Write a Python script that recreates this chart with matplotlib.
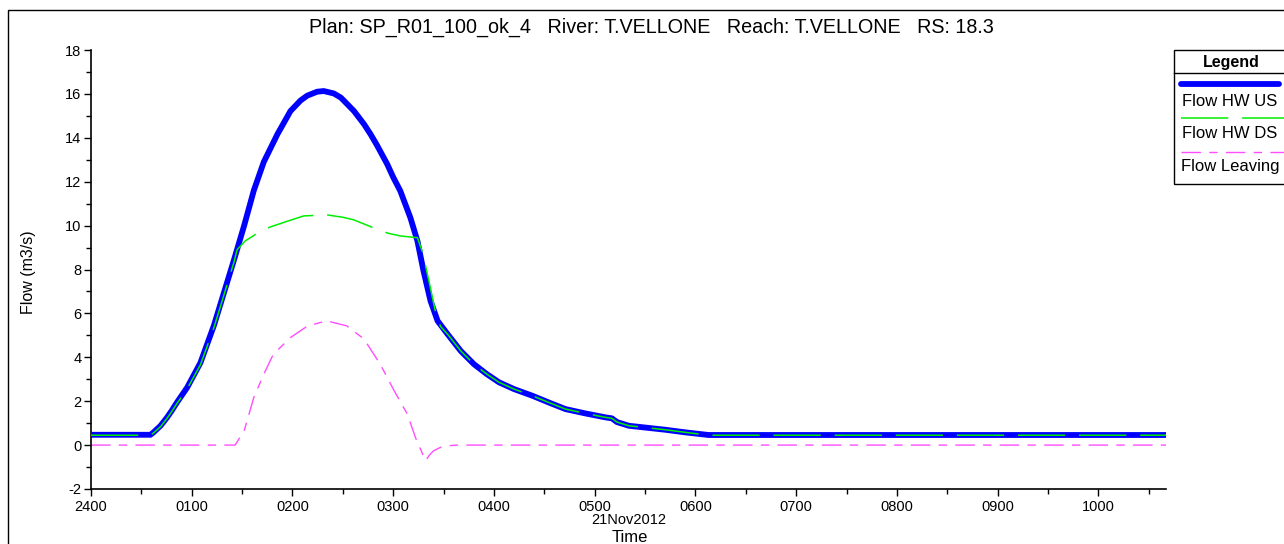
import matplotlib
matplotlib.use("Agg")
import matplotlib.pyplot as plt
from matplotlib.lines import Line2D
from matplotlib.patches import Rectangle
from matplotlib.ticker import FixedLocator, MultipleLocator

plt.rcParams["font.family"] = ["Liberation Sans", "DejaVu Sans"]
plt.rcParams["lines.scale_dashes"] = False
plt.rcParams["axes.unicode_minus"] = False

# Time in hours after 2400 (20 Nov 2012), flows in m3/s
us_time = [0.0, 0.59, 0.62, 0.69, 0.755, 0.80, 0.854, 0.954, 1.086, 1.22, 1.32, 1.42, 1.52,
           1.616, 1.715, 1.85, 1.98, 2.08, 2.146, 2.245, 2.31, 2.41, 2.48, 2.54, 2.61,
           2.71, 2.775, 2.84, 2.94, 3.0, 3.07,
           3.17, 3.24, 3.30, 3.37, 3.44, 3.54, 3.67, 3.80, 3.93, 4.05, 4.20, 4.38,
           4.55, 4.71, 4.90, 5.11, 5.17, 5.22, 5.34, 5.50, 5.70, 5.90, 6.13, 10.67]
us_flow = [0.47, 0.47, 0.58, 0.88, 1.26, 1.56, 1.95, 2.62, 3.75, 5.45, 6.95, 8.45, 10.0,
           11.6, 12.9, 14.16, 15.22, 15.70, 15.92, 16.10, 16.13, 16.02, 15.83, 15.55, 15.22,
           14.62, 14.16, 13.65, 12.8, 12.2, 11.58,
           10.36, 9.30, 7.94, 6.57, 5.66, 5.05, 4.29, 3.69, 3.23, 2.86, 2.55, 2.25,
           1.93, 1.64, 1.45, 1.26, 1.22, 1.05, 0.88, 0.80, 0.70, 0.58, 0.46, 0.46]

ds_time = [0.0, 0.59, 0.62, 0.69, 0.755, 0.80, 0.854, 0.954, 1.086, 1.22, 1.32, 1.42, 1.45,
           1.53, 1.65, 1.78, 1.95, 2.11, 2.34, 2.50, 2.61, 2.75, 2.84, 2.95, 3.07,
           3.17, 3.24, 3.29, 3.35, 3.42, 3.47, 3.54, 3.67, 3.80, 3.93, 4.05, 4.20,
           4.38, 4.55, 4.71, 4.90, 5.11, 5.17, 5.22, 5.34, 5.50, 5.70, 5.90, 6.13, 10.67]
ds_flow = [0.45, 0.45, 0.55, 0.84, 1.22, 1.52, 1.90, 2.56, 3.66, 5.35, 6.85, 8.35, 8.90,
           9.30, 9.65, 9.94, 10.20, 10.44, 10.49, 10.38, 10.26, 10.00, 9.83, 9.65, 9.53,
           9.48, 9.45, 8.79, 7.56, 6.05, 5.40, 5.05, 4.29, 3.69, 3.23, 2.86, 2.55,
           2.25, 1.93, 1.64, 1.45, 1.26, 1.22, 1.05, 0.88, 0.80, 0.70, 0.58, 0.45, 0.45]

lv_time = [0.0, 1.43, 1.52, 1.616, 1.715, 1.81, 1.98, 2.15, 2.34, 2.54, 2.71,
           2.87, 3.01, 3.14, 3.22, 3.32, 3.36, 3.40, 3.47, 3.54, 3.64, 10.67]
lv_flow = [0.0, 0.0, 0.65, 2.17, 3.23, 4.14, 4.90, 5.43, 5.66, 5.43, 4.83,
           3.69, 2.47, 1.41, 0.35, -0.71, -0.45, -0.26, -0.10, -0.03, 0.0, 0.0]

hour_ticks = list(range(0, 11))
hour_labels = ["2400", "0100", "0200", "0300", "0400", "0500",
               "0600", "0700", "0800", "0900", "1000"]

W, H = 1284, 544
fig = plt.figure(figsize=(W / 100, H / 100), dpi=100)

# outer frame of the plot window
fig.patches.append(Rectangle((8 / W, -0.2), 1.5, 1.2 - 10 / H, transform=fig.transFigure,
                             fill=False, edgecolor="black", linewidth=1.0))

ax = fig.add_axes([91 / W, 1 - 489 / H, (1166 - 91) / W, (489 - 50) / H])
ax.plot(us_time, us_flow, color="#0000ff", linewidth=4.2, solid_capstyle="round",
        solid_joinstyle="round", zorder=3)
ax.plot(ds_time, ds_flow, color="#00ee00", linewidth=1.1, dashes=(34, 10), zorder=4)
ax.plot(lv_time, lv_flow, color="#ff4dff", linewidth=1.0, dashes=(14, 6, 6, 6), zorder=2)

ax.set_xlim(0, 10.67)
ax.set_ylim(-2, 18)
ax.xaxis.set_major_locator(FixedLocator(hour_ticks))
ax.set_xticklabels(hour_labels)
ax.xaxis.set_minor_locator(MultipleLocator(0.5))
ax.yaxis.set_major_locator(MultipleLocator(2))
ax.yaxis.set_minor_locator(MultipleLocator(1))
for s in ("top", "right"):
    ax.spines[s].set_visible(False)
for s in ("left", "bottom"):
    ax.spines[s].set_linewidth(1.2)
ax.tick_params(axis="both", which="major", labelsize=10.5, direction="out",
               length=5, width=1, pad=2)
ax.tick_params(axis="both", which="minor", direction="out", length=3.5, width=1)
ax.tick_params(axis="x", which="major", length=5, pad=3)

fig.text(651 / W, 1 - 27 / H,
         "Plan: SP_R01_100_ok_4   River: T.VELLONE   Reach: T.VELLONE   RS: 18.3",
         ha="center", va="center", fontsize=14.2)
fig.text(28 / W, 1 - 272 / H, "Flow (m3/s)", rotation=90, ha="center", va="center",
         fontsize=11.5)
fig.text(628.5 / W, 1 - 520 / H, "21Nov2012", ha="center", va="center", fontsize=10.5)
fig.text(630 / W, 1 - 537 / H, "Time", ha="center", va="center", fontsize=12)

# legend panel on the right
fig.patches.append(Rectangle((1174 / W, 1 - 184 / H), (1300 - 1174) / W, (184 - 50) / H,
                             transform=fig.transFigure, fill=False, edgecolor="black",
                             linewidth=1.0))
fig.lines.append(Line2D([1174 / W, 1.0], [1 - 73 / H, 1 - 73 / H], transform=fig.transFigure,
                        color="black", linewidth=1.0))
fig.text(1231 / W, 1 - 62 / H, "Legend", ha="center", va="center", fontsize=11.5,
         fontweight="bold")
fig.lines.append(Line2D([1181 / W, 1279 / W], [1 - 84 / H, 1 - 84 / H], transform=fig.transFigure,
                        color="#0000ff", linewidth=4.2, solid_capstyle="round"))
fig.text(1182 / W, 1 - 101 / H, "Flow HW US", ha="left", va="center", fontsize=12)
fig.lines.append(Line2D([1181 / W, 1284 / W], [1 - 118 / H, 1 - 118 / H], transform=fig.transFigure,
                        color="#00ee00", linewidth=1.1, dashes=(34, 10)))
fig.text(1182 / W, 1 - 134 / H, "Flow HW DS", ha="left", va="center", fontsize=12)
fig.lines.append(Line2D([1181 / W, 1284 / W], [1 - 152 / H, 1 - 152 / H], transform=fig.transFigure,
                        color="#ff4dff", linewidth=1.0, dashes=(14, 6, 6, 6)))
fig.text(1181 / W, 1 - 167 / H, "Flow Leaving", ha="left", va="center", fontsize=12)

fig.savefig("out.png", dpi=100)
